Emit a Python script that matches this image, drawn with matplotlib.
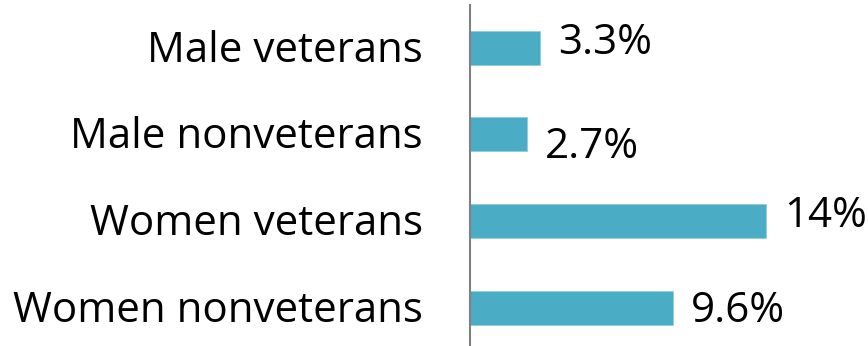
import matplotlib
matplotlib.use('Agg')
import matplotlib.pyplot as plt

# 各组比例(%)
groups = ['Male veterans', 'Male nonveterans', 'Women veterans', 'Women nonveterans']
values = [3.3, 2.7, 14, 9.6]
value_labels = ['3.3%', '2.7%', '14%', '9.6%']

# 数值标签的上下偏移(像素)
label_dy = [-6, -24, -6, -14]

plt.rcParams['font.family'] = ['Open Sans', 'DejaVu Sans']


def draw():
    fig = plt.figure(figsize=(8.68, 3.46), dpi=100)
    ax = fig.add_axes([470 / 868, 0, 398 / 868, 341 / 346])
    y = list(range(len(groups)))
    ax.barh(y, values, height=0.393, color='#4BACC6', edgecolor='#92CDDC', linewidth=0.6)
    ax.set_xlim(0, 18.83)
    ax.set_ylim(3.445, -0.497)

    for s in ['top', 'right', 'bottom']:
        ax.spines[s].set_visible(False)
    ax.spines['left'].set_color('#808080')
    ax.spines['left'].set_linewidth(1.5)
    ax.set_xticks([])
    ax.set_yticks([])

    for i, name in enumerate(groups):
        ax.annotate(name, xy=(0, i), xycoords=('data', 'data'),
                    xytext=(-47, -14), textcoords='offset pixels',
                    ha='right', va='baseline', fontsize=30.3, color='black',
                    annotation_clip=False)

    for i, (v, txt) in enumerate(zip(values, value_labels)):
        ax.annotate(txt, xy=(v, i), xytext=(18, label_dy[i]),
                    textcoords='offset pixels', ha='left', va='baseline',
                    fontsize=30.3, color='black', annotation_clip=False)

    fig.savefig('out.png', dpi=100)


if __name__ == '__main__':
    draw()
